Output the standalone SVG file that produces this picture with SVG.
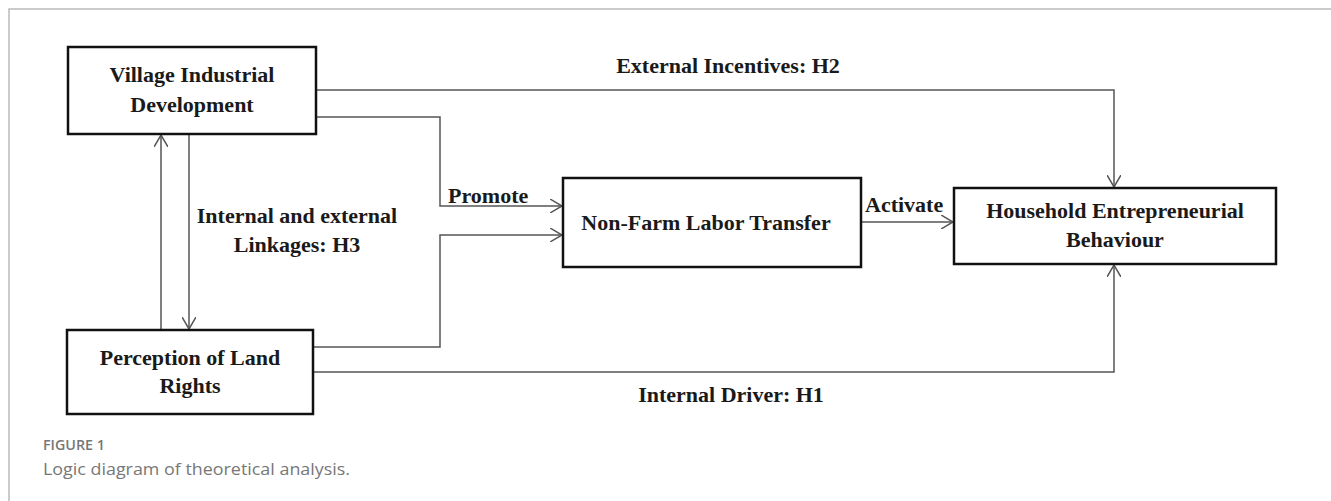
<svg xmlns="http://www.w3.org/2000/svg" width="1331" height="501" viewBox="0 0 1331 501">
  <defs>
    <style>
      .box { fill: #ffffff; stroke: #111111; stroke-width: 2.5; }
      .lbl { font-family: "Liberation Serif", "Times New Roman", serif; font-weight: bold; font-size: 22px; fill: #1a1a1a; }
      .mid { text-anchor: middle; }
      .conn { fill: none; stroke: #555555; stroke-width: 1.5; marker-end: url(#arrow); }
      .frame { fill: none; stroke: #bbbbbb; stroke-width: 1.5; }
      .cap { font-family: "Open Sans", "Liberation Sans", sans-serif; fill: #777777; }
    </style>
    <marker id="arrow" viewBox="0 0 13 14" refX="12" refY="7" markerWidth="13" markerHeight="14" markerUnits="userSpaceOnUse" orient="auto">
      <path d="M0,0 L12,7 L0,14" fill="none" stroke="#555555" stroke-width="1.5"/>
    </marker>
  </defs>
  <rect x="0" y="0" width="1331" height="501" fill="#ffffff"/>
  <path class="frame" d="M9,501 V9 H1331"/>

  <g id="connectors">
    <path class="conn" d="M316,90 H1114 V187"/>
    <path class="conn" d="M316,117 H440 V206 H562"/>
    <path class="conn" d="M313,347 H440 V235 H562"/>
    <path class="conn" d="M861,222 H953"/>
    <path class="conn" d="M313,372 H1114 V265"/>
    <path class="conn" d="M161,330 V135"/>
    <path class="conn" d="M189,134 V329"/>
  </g>

  <g id="labels">
    <text class="lbl mid" x="728" y="73">External Incentives: H2</text>
    <text class="lbl" x="448" y="203">Promote</text>
    <text class="lbl" x="865" y="212">Activate</text>
    <text class="lbl mid" x="297" y="223">Internal and external</text>
    <text class="lbl mid" x="297" y="252">Linkages: H3</text>
    <text class="lbl mid" x="731" y="402">Internal Driver: H1</text>
  </g>

  <g id="node-vid">
    <rect class="box" x="68" y="47" width="248" height="87"/>
    <text class="lbl mid" x="192" y="82">Village Industrial</text>
    <text class="lbl mid" x="192" y="112">Development</text>
  </g>

  <g id="node-plr">
    <rect class="box" x="67" y="330" width="246" height="84"/>
    <text class="lbl mid" x="190" y="365">Perception of Land</text>
    <text class="lbl mid" x="190" y="393">Rights</text>
  </g>

  <g id="node-nflt">
    <rect class="box" x="563" y="178" width="298" height="89"/>
    <text class="lbl mid" x="706" y="230">Non-Farm Labor Transfer</text>
  </g>

  <g id="node-heb">
    <rect class="box" x="954" y="188" width="322" height="76"/>
    <text class="lbl mid" x="1115" y="218">Household Entrepreneurial</text>
    <text class="lbl mid" x="1115" y="247">Behaviour</text>
  </g>

  <g id="caption">
    <text class="cap" x="43" y="450" font-size="14" font-weight="600" textLength="62" lengthAdjust="spacingAndGlyphs">FIGURE 1</text>
    <text class="cap" x="43" y="475" font-size="17" textLength="307" lengthAdjust="spacingAndGlyphs">Logic diagram of theoretical analysis.</text>
  </g>
</svg>
